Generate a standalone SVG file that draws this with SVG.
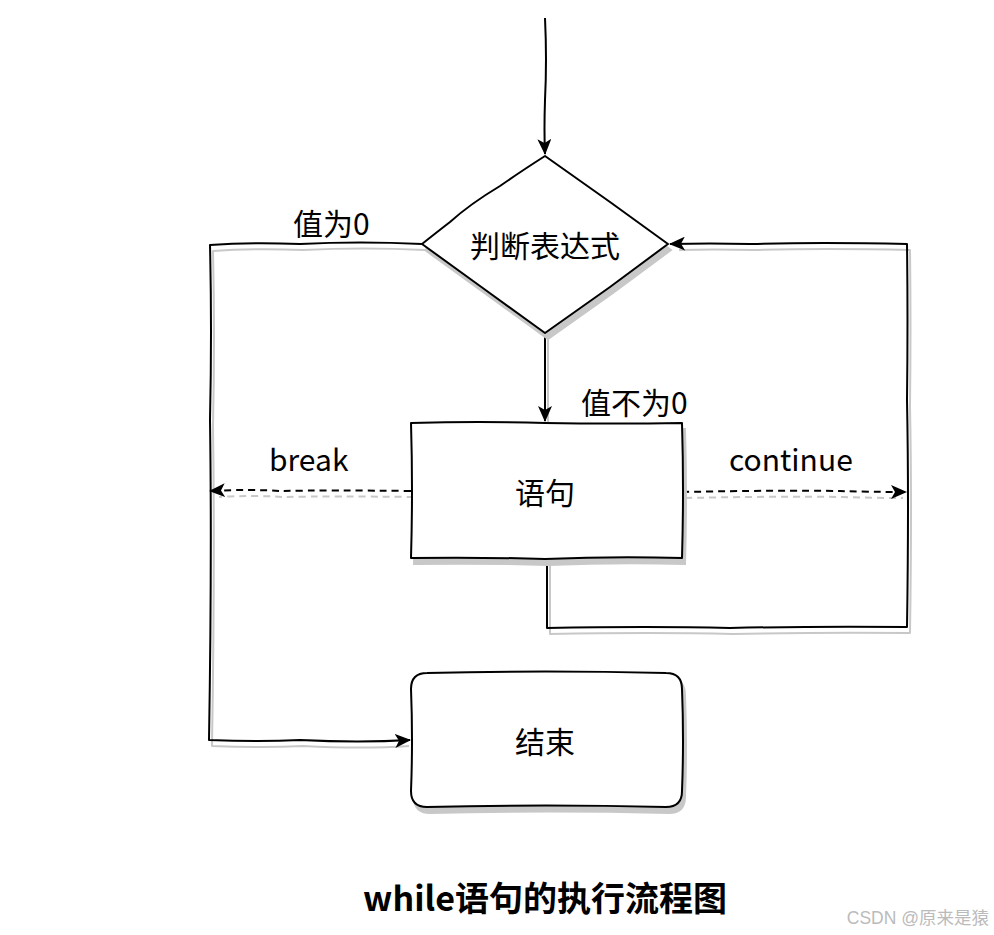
<svg xmlns="http://www.w3.org/2000/svg" width="994" height="935" viewBox="0 0 994 935">
<defs>
<style>
.n{fill:#fff;stroke:#000;stroke-width:2;stroke-linejoin:round}
.sh{fill:#c8c8c8;stroke:#c8c8c8;stroke-width:2}
.c{fill:none;stroke:#000;stroke-width:2;stroke-linejoin:round}
.cs{fill:none;stroke:#c8c8c8;stroke-width:2;stroke-linejoin:round}
.d{stroke-dasharray:7 5}
.t{font-family:"Noto Sans CJK SC","Noto Sans",sans-serif;font-size:30px;fill:#000}
</style>
<marker id="a" viewBox="0 0 16 14" refX="15" refY="7" markerWidth="16" markerHeight="14" markerUnits="userSpaceOnUse" orient="auto">
<path d="M0,0 L16,7 L0,14 L4,7 Z" fill="#000"/>
</marker>
</defs>
<rect width="994" height="935" fill="#fff"/>

<g id="connector-shadows" transform="translate(3,6)">
<path class="cs" d="M545,333 L545,418"/>
<path class="cs" d="M422,244 Q360,241 300,244 Q250,242 210,245 Q212,330 210,420 Q212,560 209,740 Q260,742 300,740 Q360,743 406,740"/>
<path class="cs" d="M547,558 L547,628 Q650,626 730,628 Q820,626 907,627 Q909,500 907,400 Q908,320 907,244 Q820,242 750,244 Q710,243 676,244"/>
<path class="cs d" d="M411,491 Q330,490 280,491 Q250,489 216,491"/>
<path class="cs d" d="M682,492 Q780,490 840,491 Q870,492 900,492"/>
</g>

<g id="connectors">
<path class="c" d="M545,18 Q547,60 545,100 Q544,130 545,154" marker-end="url(#a)"/>
<path class="c" d="M545,333 L545,421" marker-end="url(#a)"/>
<path class="c" d="M422,244 Q360,241 300,244 Q250,242 210,245 Q212,330 210,420 Q212,560 209,740 Q260,742 300,740 Q360,743 410,740" marker-end="url(#a)"/>
<path class="c" d="M547,558 L547,628 Q650,626 730,628 Q820,626 907,627 Q909,500 907,400 Q908,320 907,244 Q820,242 750,244 Q710,243 670,244" marker-end="url(#a)"/>
<path class="c d" d="M411,491 Q330,490 280,491 Q250,489 210,491" marker-end="url(#a)"/>
<path class="c d" d="M682,492 Q780,490 840,491 Q870,492 906,492" marker-end="url(#a)"/>
</g>

<g id="node-judge">
<path class="sh" transform="translate(3,6)" d="M545,156 Q520,172 500,186 Q470,204 450,222 Q432,236 422,244 L480,286 L545,333 L610,287 L668,244 L610,202 Z"/>
<path class="n" d="M545,156 Q520,172 500,186 Q470,204 450,222 Q432,236 422,244 L480,286 L545,333 L610,287 L668,244 L610,202 Z"/>
<text class="t" x="545" y="244" text-anchor="middle" dominant-baseline="central">判断表达式</text>
</g>

<g id="node-stmt">
<path class="sh" transform="translate(3,6)" d="M411,423 Q480,421 545,423 Q615,424 682,423 Q684,490 682,558 Q615,556 545,559 Q480,557 411,558 Q413,490 411,423 Z"/>
<path class="n" d="M411,423 Q480,421 545,423 Q615,424 682,423 Q684,490 682,558 Q615,556 545,559 Q480,557 411,558 Q413,490 411,423 Z"/>
<text class="t" x="545" y="491" text-anchor="middle" dominant-baseline="central">语句</text>
</g>

<g id="node-end">
<path class="sh" transform="translate(3,6)" d="M427,673 Q545,670 666,673 Q682,673 682,689 Q684,740 682,791 Q682,807 666,807 Q545,804 427,807 Q411,807 411,791 Q413,740 411,689 Q411,673 427,673 Z"/>
<path class="n" d="M427,673 Q545,670 666,673 Q682,673 682,689 Q684,740 682,791 Q682,807 666,807 Q545,804 427,807 Q411,807 411,791 Q413,740 411,689 Q411,673 427,673 Z"/>
<text class="t" x="545" y="740" text-anchor="middle" dominant-baseline="central">结束</text>
</g>

<g id="labels">
<text class="t" x="293" y="235">值为0</text>
<text class="t" x="581" y="414">值不为0</text>
<text class="t" x="269" y="471">break</text>
<text class="t" x="729" y="471">continue</text>
</g>

<text x="545" y="911" text-anchor="middle" style="font-family:'Noto Sans CJK SC','Noto Sans',sans-serif;font-size:34px;font-weight:bold;fill:#000">while语句的执行流程图</text>
<text x="989" y="924" text-anchor="end" style="font-family:'Liberation Sans','Noto Sans CJK SC',sans-serif;font-size:17.5px;fill:#bbb">CSDN @原来是猿</text>
</svg>
